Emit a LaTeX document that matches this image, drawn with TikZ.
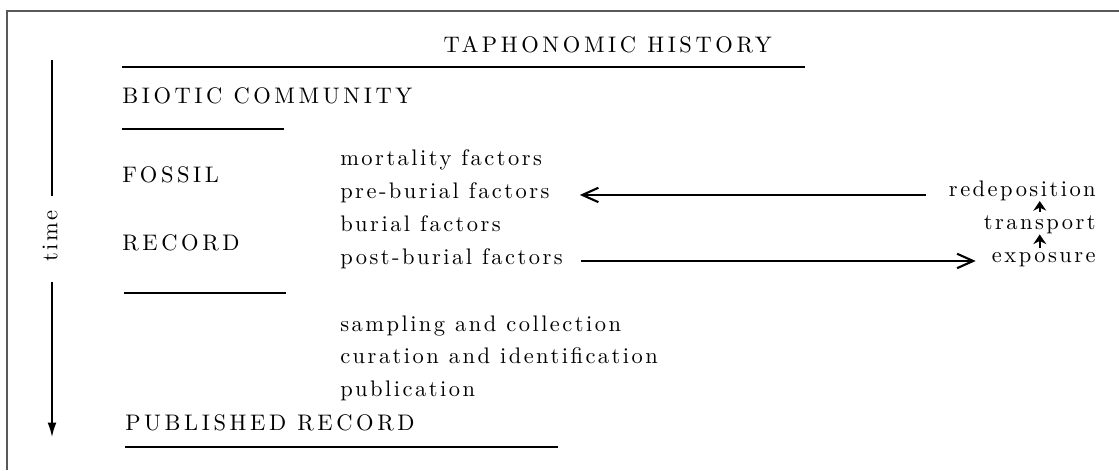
\documentclass[tikz,border=0pt]{standalone}
\usepackage{fontspec}
\setmainfont{lmroman10-regular.otf}[LetterSpace=11]
\newfontfamily\capsfont{lmroman10-regular.otf}[LetterSpace=16]
\usepackage{tikz}
\usetikzlibrary{arrows.meta}

\begin{document}
\begin{tikzpicture}[%
% common options for the texts:
lab/.style = {rectangle, inner sep=0, font=\fontsize{16}{19}\selectfont},
caps/.style = {lab, font=\capsfont\fontsize{16}{19}\selectfont},
% common options for the rules:
rule/.style = {line width=1.1pt},
% common options for the arrows:
arr/.style = {line width=0.9pt, -{Straight Barb[length=4mm,width=3.6mm,line width=1.5pt]}},
up/.style = {line width=1.6pt, -{Stealth[length=2.4mm,width=3.2mm]}}]
\useasboundingbox (0,0) rectangle (27.975,-11.75);
\draw[line width=1.3pt, gray!70!black] (0.175,-11.75) -- (0.175,-0.275) -- (27.975,-0.275);
\node[caps,anchor=base] (H0) at (15.19,-1.325) {TAPHONOMIC HISTORY};
\draw[line width=1.4pt] (3.05,-1.675) -- (20.125,-1.675);
\node[caps,anchor=base west] (L1) at (3.05,-2.575) {BIOTIC COMMUNITY};
\draw[rule] (3.05,-3.225) -- (7.1,-3.225);
\node[caps,anchor=base west] (L2) at (3.05,-4.55) {FOSSIL};
\node[caps,anchor=base west] (L3) at (3.05,-6.25) {RECORD};
\draw[rule] (3.1,-7.325) -- (7.15,-7.325);
\node[caps,anchor=base west] (L4) at (3.125,-10.75) {PUBLISHED RECORD};
\draw[rule] (3.125,-11.175) -- (13.95,-11.175);
\node[lab,anchor=base west] (M1) at (8.5,-4.125) {mortality factors};
\node[lab,anchor=base west] (M2) at (8.5,-4.95) {pre-burial factors};
\node[lab,anchor=base west] (M3) at (8.5,-5.775) {burial factors};
\node[lab,anchor=base west] (M4) at (8.5,-6.6) {post-burial factors};
\node[lab,anchor=base west] (M5) at (8.5,-8.275) {sampling and collection};
\node[lab,anchor=base west] (M6) at (8.5,-9.075) {curation and identification};
\node[lab,anchor=base west] (M7) at (8.5,-9.9) {publication};
\node[lab,anchor=base east] (R1) at (27.4,-4.9) {redeposition};
\node[lab,anchor=base east] (R2) at (27.4,-5.725) {transport};
\node[lab,anchor=base east] (R3) at (27.4,-6.55) {exposure};
\draw[arr, shorten <=0.575cm, shorten >=0.75cm] (R1.west |- M2.mid) to (M2.mid east);
\draw[arr, shorten <=0.45cm, shorten >=0.4cm] (M4.mid east) to (R3.west |- M4.mid);
\draw[up, shorten <=0.08cm, shorten >=0.02cm] (R3.north -| R2) to (R2.south);
\draw[up, shorten <=0.07cm, shorten >=0.01cm] (R2.north) to (R1.south -| R2);
% time axis
\node[lab,rotate=90] (T) at (1.25,-5.9) {time};
\coordinate (T0) at (1.3,-1.5);
\coordinate (T1) at (1.3,-10.925);
\draw[rule, shorten >=0.35cm] (T0) to (T0 |- T.east);
\draw[rule, shorten <=0.5cm, -{Latex[length=3.6mm,width=2.2mm]}] (T0 |- T.west) to (T1);
\end{tikzpicture}
\end{document}
